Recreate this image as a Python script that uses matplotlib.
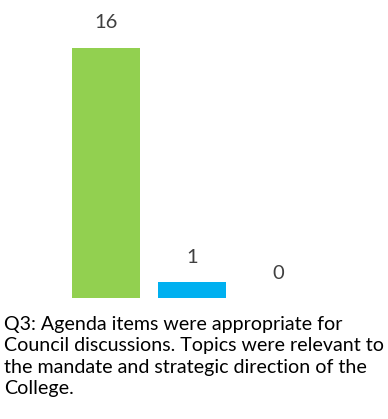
import matplotlib
matplotlib.use("Agg")
import matplotlib.pyplot as plt

# Response counts for Q3
categories = ["Agree", "Neutral", "Disagree"]
counts = [16, 1, 0]
bar_colors = ["#92D050", "#00B0F0", "#A5A5A5"]
question = ("Q3: Agenda items were appropriate for\n"
            "Council discussions. Topics were relevant to\n"
            "the mandate and strategic direction of the\n"
            "College.")

W, H = 388, 419
fig = plt.figure(figsize=(W / 100, H / 100), dpi=100)
plt.rcParams["font.family"] = ["Lato", "DejaVu Sans"]

# axes placed in pixel terms: x=-0.5..2.5 spans 63..321 px, y=0 at 298 px
ax = fig.add_axes([63 / W, (H - 298) / H, 258 / W, 281.25 / H])
x = range(len(categories))
bars = ax.bar(x, counts, width=0.79, color=bar_colors)
ax.set_xlim(-0.5, 2.5)
ax.set_ylim(0, 18)
for xi, v in zip(x, counts):
    ax.annotate(str(v), (xi, v), xytext=(0, 25), textcoords="offset pixels",
                ha="center", va="center", fontsize=14.5, color="#404040")
ax.axis("off")

fig.text(4 / W, 1 - 316 / H, question, ha="left", va="top",
         fontsize=14.1, color="#000000", linespacing=1.32)

fig.savefig("out.png", dpi=100)
